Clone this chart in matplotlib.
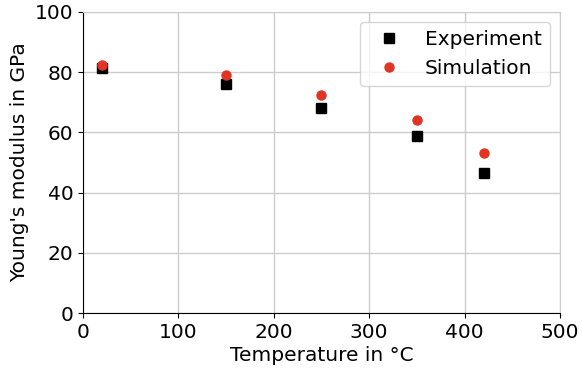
import matplotlib
matplotlib.use("Agg")
import matplotlib.pyplot as plt

temperature = [20, 150, 250, 350, 420]
experiment = [81.5, 76.0, 68.0, 58.8, 46.5]
simulation = [82.5, 79.0, 72.4, 64.1, 53.1]

fs = 14.5
fig = plt.figure(figsize=(5.82, 3.70), dpi=100)
ax = fig.add_axes([0.1426, 0.154, 0.8194, 0.814])
ax.plot(temperature, experiment, 's', color='black', markersize=6.5, label='Experiment', zorder=3)
ax.plot(temperature, simulation, 'o', color='#e03524', markersize=6.5, label='Simulation', zorder=3)
ax.set_xlim(0, 500)
ax.set_ylim(0, 100)
ax.set_xticks([0, 100, 200, 300, 400, 500])
ax.set_yticks([0, 20, 40, 60, 80, 100])
ax.grid(True, color='#cccccc', linewidth=1)
ax.set_axisbelow(True)
ax.tick_params(labelsize=fs)
ax.set_xlabel('Temperature in °C', fontsize=fs, labelpad=3)
ax.set_ylabel("Young's modulus in GPa", fontsize=fs)
for s in ['top', 'right']:
    ax.spines[s].set_color('#cccccc')
ax.legend(loc='upper right', fontsize=fs)
fig.savefig('out.png', dpi=100)
